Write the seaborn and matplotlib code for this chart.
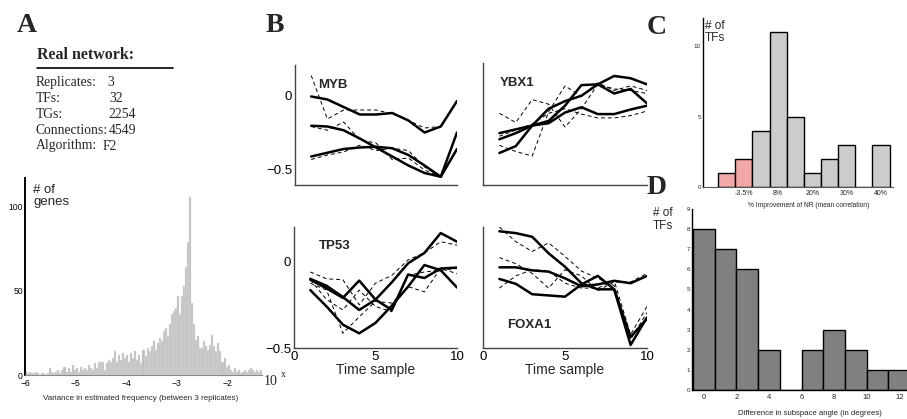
import numpy as np
import pandas as pd
import matplotlib
matplotlib.use('Agg')
import matplotlib.pyplot as plt
import seaborn as sns

# ---------------- data ----------------
# Panel A: info table
info_labels = ['Replicates:', 'TFs:', 'TGs:', 'Connections:', 'Algorithm:']
info_values = ['3', '32', '2254', '4549', 'F2']

# Panel A: histogram of log10 variance (bins of 0.04 starting at -6)
A_start = -6.0
A_width = 0.04
A_counts = [2, 1, 2, 1, 1, 2, 1, 0, 1, 1, 0, 1, 4, 2, 1, 2, 3, 1, 3, 5, 2, 4, 2, 6, 3,
            4, 2, 5, 3, 4, 3, 6, 4, 3, 7, 4, 8, 8, 8, 3,
            7, 9, 8, 10, 14, 8, 12, 9, 13, 10,
            12, 8, 13, 10, 14, 9, 12, 7, 15, 11,
            16, 14, 17, 20, 15, 19, 22, 20, 26, 28,
            23, 30, 36, 38, 40, 47, 36, 47, 53, 64, 79, 106,
            43, 30, 21, 23, 16, 16, 20, 17, 15, 18, 24, 17, 14, 19, 14, 8, 10, 5,
            6, 3, 2, 4, 2, 3, 1, 2, 3, 2, 3, 4, 3, 2, 3, 2, 3]

# Panel B: time courses
time = list(range(1, 11))
MYB_solid = [[-0.01, -0.03, -0.08, -0.13, -0.13, -0.12, -0.17, -0.25, -0.21, -0.04],
             [-0.205, -0.21, -0.235, -0.29, -0.35, -0.41, -0.47, -0.52, -0.545, -0.25],
             [-0.41, -0.385, -0.36, -0.35, -0.345, -0.355, -0.40, -0.47, -0.545, -0.36]]
MYB_dashed = [[0.13, -0.16, -0.10, -0.10, -0.10, -0.125, -0.17, -0.22, -0.21, -0.04],
              [-0.21, -0.235, -0.18, -0.30, -0.32, -0.43, -0.42, -0.50, -0.545, -0.25],
              [-0.43, -0.40, -0.38, -0.335, -0.37, -0.355, -0.37, -0.48, -0.545, -0.36]]
YBX1_solid = [[-0.26, -0.235, -0.21, -0.195, -0.125, -0.09, -0.135, -0.135, -0.105, -0.08],
              [-0.30, -0.26, -0.21, -0.10, -0.05, -0.015, 0.06, 0.0, 0.03, -0.065],
              [-0.39, -0.345, -0.21, -0.18, -0.08, 0.055, 0.06, 0.115, 0.10, 0.06]]
YBX1_dashed = [[-0.13, -0.19, -0.04, -0.07, -0.22, -0.10, 0.06, 0.03, 0.02, 0.0],
               [-0.34, -0.38, -0.41, -0.12, 0.05, -0.02, 0.07, 0.02, 0.05, 0.02],
               [-0.28, -0.24, -0.20, -0.13, -0.10, -0.135, -0.16, -0.16, -0.145, -0.115]]
TP53_solid = [[-0.10, -0.14, -0.205, -0.28, -0.22, -0.12, -0.01, 0.05, 0.165, 0.115],
              [-0.105, -0.155, -0.21, -0.11, -0.22, -0.28, -0.075, -0.095, -0.04, -0.035],
              [-0.165, -0.26, -0.365, -0.415, -0.355, -0.255, -0.145, -0.02, -0.05, -0.15]]
TP53_dashed = [[-0.06, -0.10, -0.105, -0.25, -0.125, -0.08, 0.01, 0.05, 0.115, 0.095],
               [-0.125, -0.165, -0.415, -0.32, -0.23, -0.24, -0.145, -0.175, -0.04, -0.07],
               [-0.105, -0.22, -0.28, -0.165, -0.26, -0.29, -0.08, -0.06, -0.05, -0.04]]
FOXA1_solid = [[0.165, 0.15, 0.12, -0.015, -0.125, -0.26, -0.31, -0.31, -0.765, -0.54],
               [-0.13, -0.13, -0.155, -0.165, -0.22, -0.285, -0.27, -0.24, -0.26, -0.20],
               [-0.225, -0.265, -0.35, -0.36, -0.37, -0.27, -0.20, -0.31, -0.70, -0.55]]
FOXA1_dashed = [[0.20, 0.08, 0.0, 0.07, -0.04, -0.16, -0.22, -0.28, -0.72, -0.50],
                [-0.05, -0.10, -0.18, -0.30, -0.15, -0.20, -0.32, -0.25, -0.25, -0.18],
                [-0.30, -0.20, -0.15, -0.16, -0.26, -0.30, -0.30, -0.24, -0.68, -0.45]]

# Panel C: improvement histogram
C_bins = [0, 1, 2, 3, 4, 5, 6, 7, 8, 9]
C_counts = [1, 2, 4, 11, 5, 1, 2, 3, 0, 3]
C_group = ['worse', 'worse', 'better', 'better', 'better', 'better', 'better', 'better', 'better', 'better']
C_tick_bins = [1, 3, 5, 7, 9]
C_tick_labels = ['-3.5%', '8%', '20%', '30%', '40%']

# Panel D: subspace angle histogram
D_width = 4 / 3
D_angles = [0.0, 1.33, 2.67, 4.0, 5.33, 6.67, 8.0, 9.33, 10.67, 12.0]
D_counts = [8, 7, 6, 2, 0, 2, 3, 2, 1, 1]

# ---------------- figure ----------------
sns.set_style('white')
plt.rcParams['font.family'] = ['Liberation Sans', 'DejaVu Sans']
plt.rcParams['axes.unicode_minus'] = True

W, H = 907, 419
fig = plt.figure(figsize=(W / 100, H / 100), dpi=100)


def add_ax(l, t, r, b):
    return fig.add_axes([l / W, 1 - b / H, (r - l) / W, (b - t) / H])


def ftext(x, y, s, **kw):
    kw.setdefault('va', 'center')
    return fig.text(x / W, 1 - y / H, s, **kw)


SERIF = ['Liberation Serif', 'DejaVu Serif']

# panel letters
for letter, (x, y) in zip('ABCD', [(27, 26), (275, 25), (657, 27), (657, 187)]):
    ftext(x, y, letter, ha='center', family=SERIF, fontweight='bold', fontsize=20)

# ---------- Panel A table ----------
ftext(37, 55, 'Real network:', family=SERIF, fontweight='bold', fontsize=11.5)
fig.add_artist(plt.Line2D([37 / W, 173 / W], [1 - 68 / H, 1 - 68 / H], color='black', lw=1.2))
row_y = [82, 98, 114, 130, 146]
val_x = [107, 109, 108, 109, 103]
for lab, val, y, vx in zip(info_labels, info_values, row_y, val_x):
    ftext(36, y, lab, family=SERIF, fontsize=9.8)
    ftext(vx, y, val, family=SERIF, fontsize=9.8)

# ---------- Panel A histogram ----------
axA = add_ax(25, 178, 262, 375)
edges = A_start + A_width * np.arange(len(A_counts) + 1)
centers = (edges[:-1] + edges[1:]) / 2
dfA = pd.DataFrame({'v': centers, 'n': A_counts})
sns.histplot(data=dfA, x='v', weights='n', bins=list(edges), color='#bdbdbd',
             edgecolor='#e4e4e4', linewidth=0.3, alpha=1, ax=axA)
axA.set_xlim(-6, -1.32)
axA.set_ylim(0, 117)
axA.set_xticks([-6, -5, -4, -3, -2])
axA.set_yticks([0, 50, 100])
axA.tick_params(axis='y', direction='in', length=2, labelsize=6.2, pad=1.5, colors='black')
axA.tick_params(axis='x', direction='in', length=2, labelsize=6.2, pad=3, colors='black')
axA.set_xlabel('')
axA.set_ylabel('')
sns.despine(ax=axA)
axA.spines['left'].set_linewidth(1.4)
axA.spines['left'].set_color('black')
axA.spines['bottom'].set_linewidth(0.8)
axA.spines['bottom'].set_color('#888888')
axA.text(0.034, 0.97, '# of\ngenes', transform=axA.transAxes, va='top', ha='left',
         fontsize=9.5, linespacing=1.0)
ftext(141, 398, 'Variance in estimated frequency (between 3 replicates)', ha='center', fontsize=5.8)
ftext(264, 381, '10', family=SERIF, fontsize=10)
ftext(281, 374, 'x', family=SERIF, fontsize=7)

# ---------- Panel B ----------
B_panels = [
    ('MYB', MYB_solid, MYB_dashed, (295, 65, 457, 185), (-0.6, 0.2), (0.14, 0.83), True, False),
    ('YBX1', YBX1_solid, YBX1_dashed, (483, 63, 647, 185), (-0.6, 0.2), (0.10, 0.84), False, False),
    ('TP53', TP53_solid, TP53_dashed, (294, 227, 457, 348), (-0.5, 0.2), (0.15, 0.84), True, True),
    ('FOXA1', FOXA1_solid, FOXA1_dashed, (483, 227, 647, 348), (-0.79, 0.2), (0.15, 0.19), False, True),
]
for name, solid, dashed, box, ylim, lpos, ylab, xlab in B_panels:
    ax = add_ax(*box)
    for vals in dashed:
        sns.lineplot(x=time, y=vals, color='black', linewidth=0.7, linestyle=(0, (4, 3)), ax=ax)
    for vals in solid:
        sns.lineplot(x=time, y=vals, color='black', linewidth=1.8, ax=ax)
    ax.set_xlim(0, 10)
    ax.set_ylim(*ylim)
    ax.set_xticks([0, 5, 10])
    ax.set_yticks([-0.5, 0])
    ax.tick_params(direction='in', length=3, labelsize=9.5, pad=2, colors='black')
    ax.set_yticklabels(['\u22120.5', '0'] if ylab else [])
    if xlab:
        ax.set_xticklabels(['0', '5', '10'])
        ax.set_xlabel('Time sample', fontsize=10, labelpad=0)
    else:
        ax.set_xticklabels([])
        ax.set_xlabel('')
    ax.set_ylabel('')
    sns.despine(ax=ax)
    for sp in ('left', 'bottom'):
        ax.spines[sp].set_color('#444444')
        ax.spines[sp].set_linewidth(1.0)
    ax.text(lpos[0], lpos[1], name, transform=ax.transAxes, va='center', ha='left',
            fontsize=9.5, fontweight='bold')

# ---------- Panel C ----------
axC = add_ax(703, 18, 893, 187)
sns.barplot(x=C_bins, y=C_counts, hue=C_group, palette={'worse': '#ff9c9c', 'better': '#cccccc'},
            dodge=False, width=1, edgecolor='black', linewidth=1, legend=False, ax=axC)
axC.set_xlim(-1.38, 9.7)
axC.set_ylim(0, 12)
axC.set_xticks(C_tick_bins)
axC.set_xticklabels(C_tick_labels)
axC.set_yticks([0, 5, 10])
axC.tick_params(axis='y', direction='in', length=2, labelsize=4.5, pad=1.5)
axC.tick_params(axis='x', length=0, labelsize=5, pad=2)
axC.set_xlabel('')
axC.set_ylabel('')
sns.despine(ax=axC)
axC.spines['left'].set_color('black')
axC.spines['left'].set_linewidth(1.0)
axC.spines['bottom'].set_color('#555555')
axC.spines['bottom'].set_linewidth(0.8)
axC.text(0.01, 0.99, '# of\nTFs', transform=axC.transAxes, va='top', ha='left',
         fontsize=8.5, linespacing=1.0)
ftext(809, 205, '% Improvement of NR (mean correlation)', ha='center', fontsize=4.8)

# ---------- Panel D ----------
axD = add_ax(692, 209, 907, 390)
D_edges = np.linspace(D_angles[0] - D_width / 2, D_angles[-1] + D_width / 2, len(D_angles) + 1)
dfD = pd.DataFrame({'a': D_angles, 'n': D_counts})
sns.histplot(data=dfD, x='a', weights='n', bins=list(D_edges), color='#808080',
             edgecolor='black', linewidth=1, alpha=1, ax=axD)
axD.set_xlim(-0.72, 12.47)
axD.set_ylim(0, 9)
axD.set_xticks([0, 2, 4, 6, 8, 10, 12])
axD.set_yticks(list(range(10)))
axD.tick_params(axis='y', direction='in', length=2, labelsize=4.5, pad=1.5)
axD.tick_params(axis='x', length=0, labelsize=5.5, pad=3)
axD.set_xlabel('')
axD.set_ylabel('')
sns.despine(ax=axD)
axD.spines['left'].set_color('black')
axD.spines['left'].set_linewidth(1.0)
axD.spines['bottom'].set_color('black')
axD.spines['bottom'].set_linewidth(1.0)
ftext(673, 213, '# of', ha='right', fontsize=8.5)
ftext(673, 226, 'TFs', ha='right', fontsize=8.5)
ftext(810, 413, 'Difference in subspace angle (in degrees)', ha='center', fontsize=5.6)

fig.savefig('out.png', dpi=100)
